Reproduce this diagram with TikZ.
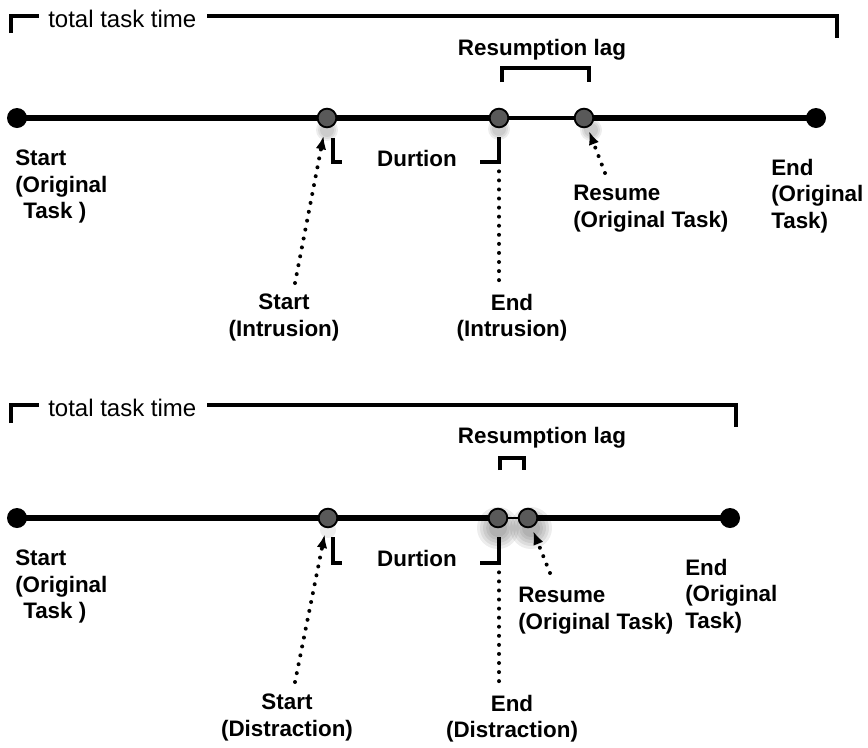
\documentclass[tikz,border=0pt]{standalone}
\usepackage{fontspec}
\setmainfont{Liberation Sans}
\usetikzlibrary{arrows.meta}
\pgfdeclarelayer{background}
\pgfsetlayers{background,main}

\begin{document}
\begin{tikzpicture}[
        x=0.75pt, y=-0.75pt,
        % Line styles
        timeline/.style={line width=4pt},
        thinline/.style={line width=1.6pt},
        bracket/.style={line width=2.3pt},
        dotline/.style={line width=3pt, line cap=round, dash pattern=on 0pt off 6.8pt},
        pointer/.style={dotline, -{Latex[length=10pt, width=8pt]}},
        glow/.style={fill=black, opacity=0.07},
        % Node styles
        blackdot/.style={circle, fill=black, inner sep=0pt, minimum size=15pt},
        greydot/.style={circle, draw=black, line width=1.4pt, fill=black!65, inner sep=0pt, minimum size=14pt},
        evtext/.style={inner sep=0pt, font=\fontsize{16.8pt}{19.8pt}\selectfont\bfseries},
        tttext/.style={inner sep=0pt, font=\fontsize{18pt}{21pt}\selectfont}
    ]
        \useasboundingbox (0,0) rectangle (868,747);

        % ---------- Upper timeline (intrusion) ----------
        \node[blackdot] (s1) at (17,118) {};
        \node[greydot] (b1) at (327,118) {};
        \node[greydot] (c1) at (499,118) {};
        \node[greydot] (d1) at (584,118) {};
        \node[blackdot] (e1) at (816,118) {};

        \node[tttext, anchor=west] (ttt1) at (48,19) {total task time};
        \node[evtext] (lag1) at (542,50) {Resumption lag};
        \node[evtext] (dur1) at (417,158) {Durtion};

        \node[evtext, anchor=north west, align=left] (startorig1) at (15,150) {Start\\(Original\\\hspace*{6pt}Task )};
        \node[evtext, anchor=north, align=center] (startint) at (284,294) {Start\\(Intrusion)};
        \node[evtext, anchor=north, align=center] (endint) at (512,294) {End\\(Intrusion)};
        \node[evtext, anchor=north west, align=left] (resume1) at (573,185) {Resume\\(Original Task)};
        \node[evtext, anchor=north west, align=left] (endorig1) at (771,159) {End\\(Original\\Task)};

        \begin{pgfonlayer}{background}
            \foreach \r in {7,9,11} {
                \fill[glow] (327,130) circle (\r);
                \fill[glow] (499,129) circle (\r);
                \fill[glow] (591,130) circle (\r);
            }
            \draw[timeline] (s1.center) -- (b1.center) -- (c1.center);
            \draw[line width=3.4pt] (c1.center) -- (d1.center);
            \draw[timeline] (d1.center) -- (e1.center);
        \end{pgfonlayer}

        % Brackets
        \draw[bracket] (11,33) |- (39,16);
        \draw[bracket] (207,16) -| (837,38);
        \draw[bracket] (502,82) |- (589,68) -- (589,82);
        \draw[bracket] (333,138) |- (342,162);
        \draw[bracket] (480,162) -| (499,137);
        \coordinate (durend1) at (499,162);

        % Pointers
        \draw[pointer, shorten >=6pt] ([shift={(11,-11)}]startint.north) -- (b1);
        \draw[dotline, shorten <=7pt, shorten >=8pt] (durend1) -- (durend1 |- endint.north);
        \draw[pointer, shorten >=3pt] ([shift={(32,-12)}]resume1.north west) -- (d1);

        % ---------- Lower timeline (distraction) ----------
        \node[blackdot] (s2) at (17,518) {};
        \node[greydot] (b2) at (328,518) {};
        \node[greydot] (c2) at (498,518) {};
        \node[greydot] (d2) at (528,518) {};
        \node[blackdot] (e2) at (730,518) {};

        \node[tttext, anchor=west] (ttt2) at (48,408) {total task time};
        \node[evtext] (lag2) at (542,438) {Resumption lag};
        \node[evtext] (dur2) at (417,558) {Durtion};

        \node[evtext, anchor=north west, align=left] (startorig2) at (15,550) {Start\\(Original\\\hspace*{6pt}Task )};
        \node[evtext, anchor=north, align=center] (startdis) at (287,694) {Start\\(Distraction)};
        \node[evtext, anchor=north, align=center] (enddis) at (512,695) {End\\(Distraction)};
        \node[evtext, anchor=north west, align=left] (resume2) at (518,587) {Resume\\(Original Task)};
        \node[evtext, anchor=north west, align=left] (endorig2) at (685,559) {End\\(Original\\Task)};

        \begin{pgfonlayer}{background}
            \foreach \r in {9,12,15,18,21} {
                \fill[glow] (498,528) circle (\r);
                \fill[glow] (531,528) circle (\r);
            }
            \fill[glow] (328,530) circle (8);
            \draw[timeline] (s2.center) -- (b2.center) -- (c2.center);
            \draw[thinline] (c2.center) -- (d2.center);
            \draw[timeline] (d2.center) -- (e2.center);
        \end{pgfonlayer}

        % Brackets
        \draw[bracket] (11,423) |- (39,405);
        \draw[bracket] (207,405) -| (736,427);
        \draw[bracket] (500,470) |- (524,458) -- (524,470);
        \draw[bracket] (333,537) |- (342,563);
        \draw[bracket] (480,563) -| (499,537);
        \coordinate (durend2) at (499,563);

        % Pointers
        \draw[pointer, shorten >=5pt] ([shift={(8,-12)}]startdis.north) -- (b2);
        \draw[dotline, shorten <=7pt, shorten >=8pt] (durend2) -- (durend2 |- enddis.north);
        \draw[pointer, shorten >=3pt] ([shift={(32,-14)}]resume2.north west) -- (d2);
    \end{tikzpicture}
\end{document}
